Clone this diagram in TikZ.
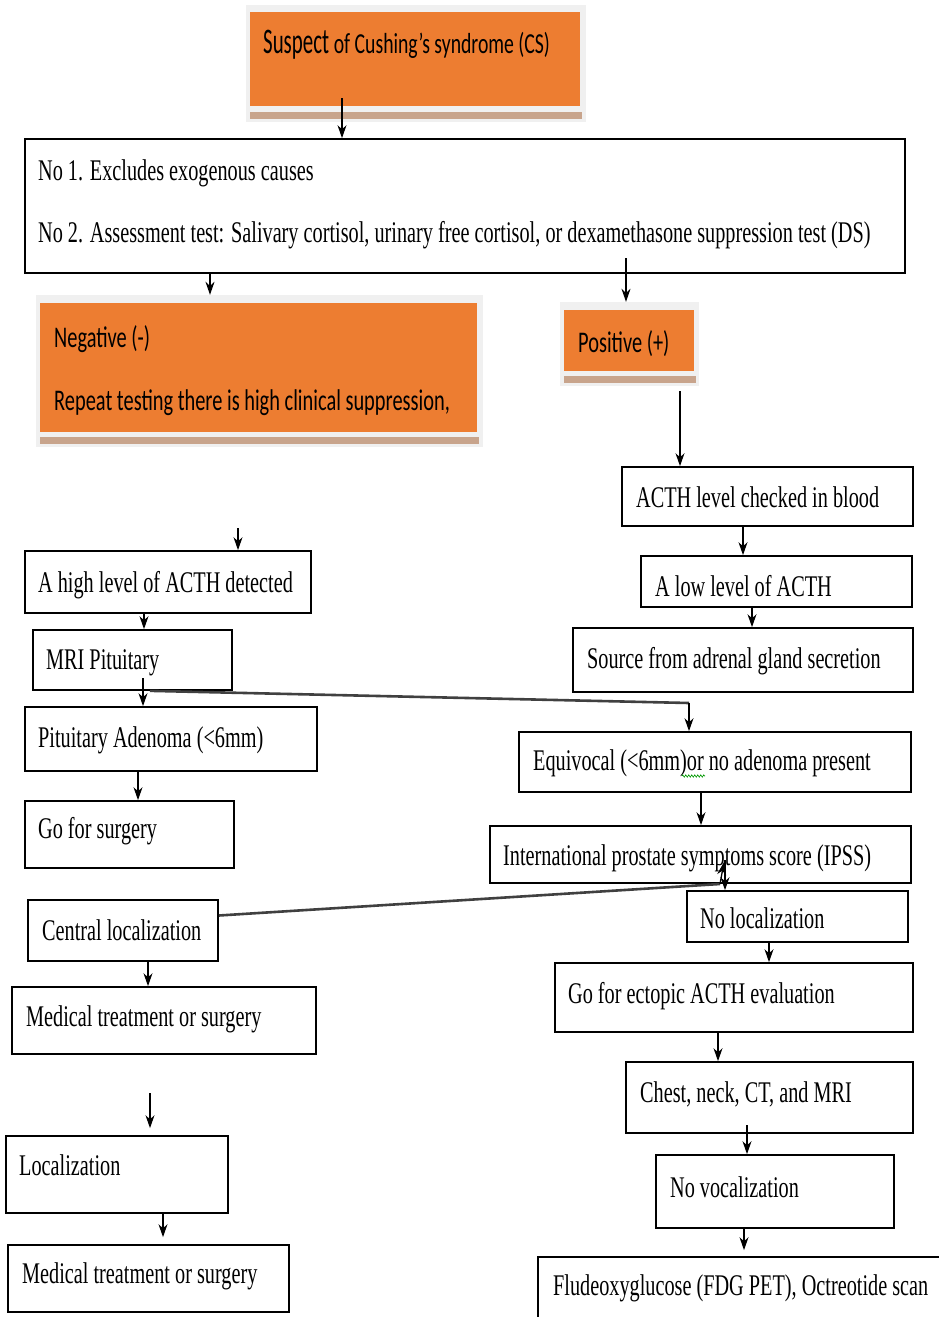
\documentclass[tikz,border=0pt]{standalone}
\usepackage{fontspec}
\usetikzlibrary{arrows.meta,fit,decorations.pathmorphing}
\newfontfamily\serifc[FakeStretch=0.675]{Liberation Serif}
\newfontfamily\sansc[FakeStretch=0.68]{Carlito}
\newfontfamily\sansd[FakeStretch=0.58]{Carlito}
\definecolor{orng}{HTML}{ED7D31}
\definecolor{shtan}{HTML}{C8A48C}
\definecolor{glow}{HTML}{F0F0F0}
\begin{document}
\begin{tikzpicture}[x=1pt,y=-1pt,
  box/.style={draw, line width=1.7pt, inner sep=0pt},
  ofill/.style={fill=orng, draw=none, inner sep=0pt},
  oglow/.style={fill=glow, draw=none, inner sep=0pt},
  txt/.style={anchor=base west, inner sep=0pt, font=\serifc\fontsize{30}{32}\selectfont},
  otxt/.style={anchor=base west, inner sep=0pt, font=\sansc\fontsize{30}{32}\selectfont},
  arr/.style={-{Stealth[length=13pt,width=9pt]}, line width=1.3pt},
  link/.style={line width=2.6pt, black!75},
]
\useasboundingbox (0,0) rectangle (939,1317);
\clip (0,0) rectangle (939,1317);
\fill[white] (0,0) rectangle (939,1317);

% ---- orange boxes ----
\node[oglow, fit={(246,5) (586,122)}] (cssh) {};
\fill[shtan] (250,112) rectangle (582,119);
\node[ofill, fit={(250,12) (580,106)}] (cs) {};
\node[anchor=base west, inner sep=0pt] (cst) at (263,53)
  {\sansd\fontsize{36}{38}\selectfont Suspect \sansc\fontsize{29}{30}\selectfont of Cushing’s syndrome (CS)};

\node[oglow, fit={(36,295) (483,447)}] (negsh) {};
\fill[shtan] (40,437) rectangle (479,444);
\node[ofill, fit={(40,303) (477,432)}] (neg) {};
\node[otxt] (negt1) at (54,347) {Negative (-)};
\node[otxt] (negt2) at (54,410) {Repeat testing there is high clinical suppression,};

\node[oglow, fit={(560,302) (699,386)}] (possh) {};
\fill[shtan] (564,376) rectangle (696,383);
\node[ofill, fit={(564,310) (694,371)}] (pos) {};
\node[otxt] (post) at (578,352) {Positive (+)};

% ---- white boxes ----
\node[box, fit={(25,139) (905,273)}] (main) {};
\node[txt] (maint1) at (38,180) {No 1. Excludes exogenous causes};
\node[txt] (maint2) at (38,242) {No 2. Assessment test: Salivary cortisol, urinary free cortisol, or dexamethasone suppression test (DS)};

\node[box, fit={(622,467) (913,526)}] (acth) {};
\node[txt] (actht) at (636,507) {ACTH level checked in blood};
\node[box, fit={(25,551) (311,613)}] (high) {};
\node[txt] (hight) at (38,592) {A high level of ACTH detected};
\node[box, fit={(641,556) (912,607)}] (low) {};
\node[txt] (lowt) at (655,596) {A low level of ACTH};
\node[box, fit={(33,630) (232,690)}] (mri) {};
\node[txt] (mrit) at (46,669) {MRI Pituitary};
\node[box, fit={(573,628) (913,692)}] (src) {};
\node[txt] (srct) at (587,668) {Source from adrenal gland secretion};
\node[box, fit={(25,707) (317,771)}] (pit) {};
\node[txt] (pitt) at (38,747) {Pituitary Adenoma (<6mm)};
\node[box, fit={(519,732) (911,792)}] (equiv) {};
\node[txt] (equivt) at (533,770) {Equivocal (<6mm)or no adenoma present};
\draw[green!60!black, line width=0.6pt, decorate, decoration={zigzag, amplitude=1.2pt, segment length=3pt}] (682,776) -- (705,776);
\node[box, fit={(25,801) (234,868)}] (surg) {};
\node[txt] (surgt) at (38,838) {Go for surgery};
\node[box, fit={(490,826) (911,883)}] (ipss) {};
\node[txt] (ipsst) at (503,865) {International prostate symptoms score (IPSS)};
\node[box, fit={(28,900) (218,961)}] (central) {};
\node[txt] (centralt) at (42,940) {Central localization};
\node[box, fit={(687,891) (908,942)}] (noloc) {};
\node[txt] (noloct) at (700,928) {No localization};
\node[box, fit={(12,987) (316,1054)}] (med1) {};
\node[txt] (med1t) at (26,1026) {Medical treatment or surgery};
\node[box, fit={(555,963) (913,1032)}] (ecto) {};
\node[txt] (ectot) at (568,1003) {Go for ectopic ACTH evaluation};
\node[box, fit={(626,1062) (913,1133)}] (chest) {};
\node[txt] (chestt) at (640,1102) {Chest, neck, CT, and MRI};
\node[box, fit={(6,1136) (228,1213)}] (loc) {};
\node[txt] (loct) at (19,1175) {Localization};
\node[box, fit={(656,1155) (894,1228)}] (novoc) {};
\node[txt] (novoct) at (670,1197) {No vocalization};
\node[box, fit={(8,1245) (289,1312)}] (med2) {};
\node[txt] (med2t) at (22,1283) {Medical treatment or surgery};
\node[box, fit={(538,1257) (960,1340)}] (fdg) {};
\node[txt] (fdgt) at (553,1295) {Fludeoxyglucose (FDG PET), Octreotide scan};

% ---- connectors ----
\coordinate (s1) at (342,98);   \draw[arr] (s1) -- (s1 |- main.north);
\coordinate (c2) at (210,0);    \draw[arr] (main.south -| c2) -- (negsh.north -| c2);
\coordinate (s3) at (626,258);  \draw[arr] (s3) -- (s3 |- possh.north);
\coordinate (s4) at (680,391);  \draw[arr] (s4) -- (s4 |- acth.north);
\coordinate (s5) at (238,528);  \draw[arr] (s5) -- (s5 |- high.north);
\coordinate (c6) at (743,0);    \draw[arr] (acth.south -| c6) -- (low.north -| c6);
\coordinate (c7) at (144,0);    \draw[arr] (high.south -| c7) -- (mri.north -| c7);
\coordinate (c8) at (752,0);    \draw[arr] (low.south -| c8) -- (src.north -| c8);
\coordinate (s9) at (143,678);  \draw[arr] (s9) -- (s9 |- pit.north);
\coordinate (c10) at (150,0);   \coordinate (j10) at (689,703);
\draw[link] (mri.south -| c10) -- (j10);
\draw[arr] (j10) -- (j10 |- equiv.north);
\coordinate (c11) at (138,0);   \draw[arr] (pit.south -| c11) -- (surg.north -| c11);
\coordinate (c12) at (701,0);   \draw[arr] (equiv.south -| c12) -- (ipss.north -| c12);
\coordinate (j13) at (720,884);
\draw[link] ([yshift=15pt]central.east) -- (j13);
\draw[arr] (j13) -- (724,862);
\coordinate (s14) at (725,860); \draw[arr] (s14) -- (s14 |- noloc.north);
\coordinate (c15) at (769,0);   \draw[arr] (noloc.south -| c15) -- (ecto.north -| c15);
\coordinate (c16) at (148,0);   \draw[arr] (central.south -| c16) -- (med1.north -| c16);
\coordinate (c17) at (718,0);   \draw[arr] (ecto.south -| c17) -- (chest.north -| c17);
\coordinate (s18) at (150,1093); \draw[arr, shorten >=7pt] (s18) -- (s18 |- loc.north);
\coordinate (c19) at (163,0);   \draw[arr, shorten >=7pt] (loc.south -| c19) -- (med2.north -| c19);
\coordinate (s20) at (747,1125); \draw[arr] (s20) -- (s20 |- novoc.north);
\coordinate (c21) at (744,0);   \draw[arr, shorten >=6pt] (novoc.south -| c21) -- (fdg.north -| c21);
\end{tikzpicture}
\end{document}
